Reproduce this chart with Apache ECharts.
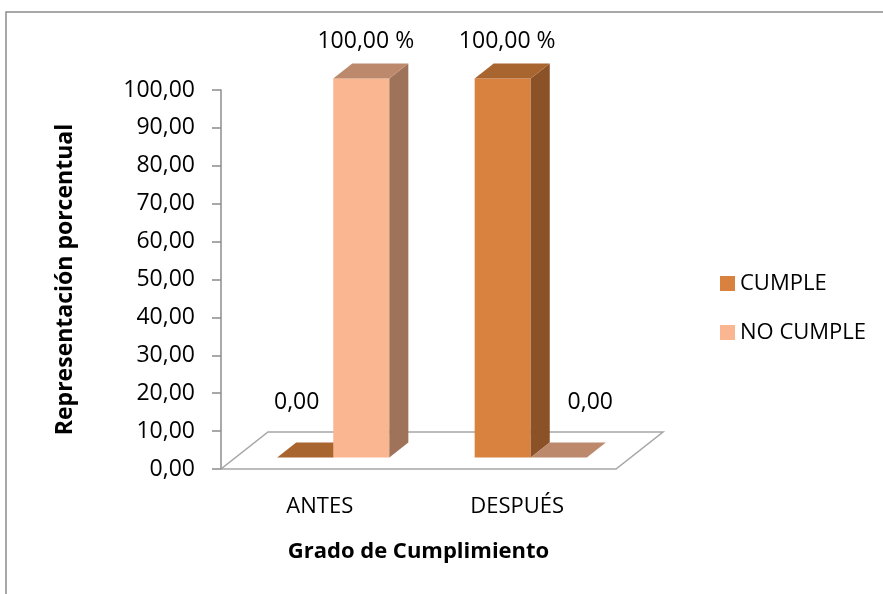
<!DOCTYPE html>
<html>
<head>
<meta charset="utf-8">
<script src="https://cdn.jsdelivr.net/npm/echarts@6/dist/echarts.min.js"></script>
<style>
  html, body { margin: 0; padding: 0; background: #fff; }
  #chart { width: 883px; height: 594px; }
</style>
</head>
<body>
<div id="chart"></div>
<script>
const categories = ["ANTES", "DESPUÉS"]
const seriesNames = ["CUMPLE", "NO CUMPLE"]
const cumple = [0, 100]
const noCumple = [100, 0]

// front / side / top shades for each serie
const colors = [
  { front: "#D9823F", side: "#8B5228", top: "#A9652F" },
  { front: "#FAB690", side: "#9F735A", top: "#BC896C" }
]
const FONT = "Open Sans"
const FLOOR = [47, 37]
const BAR_OFF = [13.5, 11.5]
const BAR_DEPTH = [19, 15]

const fmt = (v) => v.toFixed(2).replace(".", ",")

function floorItem(params) {
  const c = params.coordSys
  const yb = c.y + c.height
  return {
    type: "polygon",
    shape: {
      points: [
        [c.x, yb],
        [c.x + c.width, yb],
        [c.x + c.width + FLOOR[0], yb - FLOOR[1]],
        [c.x + FLOOR[0], yb - FLOOR[1]]
      ]
    },
    style: { fill: "#fff", stroke: "#A6A6A6", lineWidth: 1.5 }
  }
}

function barItem(sIdx) {
  const col = colors[sIdx]
  return function (params, api) {
    const cat = api.value(0)
    const val = api.value(1)
    const base = api.coord([cat, 0])
    const top = api.coord([cat, val])
    const bw = api.size([1, 0])[0] * 0.284
    const x0 = base[0] + BAR_OFF[0] + (sIdx - 1) * bw
    const x1 = x0 + bw
    const yb = base[1] - BAR_OFF[1]
    const yt = top[1] - BAR_OFF[1]
    const dx = BAR_DEPTH[0]
    const dy = BAR_DEPTH[1]
    const children = []
    if (yb - yt > 0.5) {
      children.push({
        type: "rect",
        shape: { x: x0, y: yt, width: bw, height: yb - yt },
        style: { fill: col.front }
      })
      children.push({
        type: "polygon",
        shape: { points: [[x1, yb], [x1 + dx, yb - dy], [x1 + dx, yt - dy], [x1, yt]] },
        style: { fill: col.side }
      })
    }
    children.push({
      type: "polygon",
      shape: { points: [[x0, yt], [x1, yt], [x1 + dx, yt - dy], [x0 + dx, yt - dy]] },
      style: { fill: col.top }
    })
    const cx = x0 + bw / 2 + dx / 2
    const cy = yt - dy / 2
    let lx, ly, txt
    if (val > 0) {
      lx = cx - 5
      ly = cy - 30
      txt = fmt(val) + " %"
    } else {
      lx = cx + (sIdx === 0 ? -18 : 22)
      ly = cy - 48
      txt = fmt(val)
    }
    children.push({
      type: "text",
      style: {
        text: txt, x: lx, y: ly, align: "center", verticalAlign: "middle",
        fontSize: 23, fontFamily: FONT, fill: "#000"
      }
    })
    return { type: "group", children }
  }
}

const chart = echarts.init(document.getElementById("chart"))
const option = {
  backgroundColor: "#fff",
  animation: false,
  graphic: [
    {
      type: "rect",
      shape: { x: 6, y: 12, width: 900, height: 620 },
      style: { fill: "none", stroke: "#8C8C8C", lineWidth: 1.5 },
      silent: true
    }
  ],
  legend: {
    data: seriesNames,
    orient: "vertical",
    left: 715,
    top: 266,
    icon: "rect",
    itemWidth: 15,
    itemHeight: 15,
    itemGap: 24,
    textStyle: { fontSize: 22, fontFamily: FONT, color: "#000", lineHeight: 25 }
  },
  grid: { left: 221, top: 90, width: 395, height: 379 },
  xAxis: {
    type: "category",
    data: categories,
    name: "Grado de Cumplimiento",
    nameLocation: "middle",
    nameGap: 72,
    nameTextStyle: { fontSize: 22, fontWeight: "bold", fontFamily: FONT, color: "#000" },
    axisLine: { show: false },
    axisTick: { show: false },
    axisLabel: { fontSize: 22, fontFamily: FONT, color: "#000", margin: 27 }
  },
  yAxis: {
    type: "value",
    min: 0,
    max: 100,
    interval: 10,
    name: "Representación porcentual",
    nameLocation: "middle",
    nameGap: 144,
    nameTextStyle: { fontSize: 23, fontWeight: "bold", fontFamily: FONT, color: "#000" },
    axisLine: { show: true, lineStyle: { color: "#8C8C8C", width: 1.5 } },
    axisTick: { show: true, length: 9, lineStyle: { color: "#8C8C8C", width: 1.5 } },
    splitLine: { show: false },
    axisLabel: {
      fontSize: 23, fontFamily: FONT, color: "#000", margin: 26,
      formatter: (v) => fmt(v)
    }
  },
  series: [
    {
      type: "custom",
      name: "floor",
      silent: true,
      clip: false,
      z: 1,
      data: [[0, 0]],
      renderItem: floorItem
    },
    {
      type: "custom",
      name: seriesNames[0],
      clip: false,
      z: 2,
      itemStyle: { color: colors[0].front },
      encode: { x: 0, y: 1 },
      data: cumple.map((v, i) => [i, v]),
      renderItem: barItem(0)
    },
    {
      type: "custom",
      name: seriesNames[1],
      clip: false,
      z: 3,
      itemStyle: { color: colors[1].front },
      encode: { x: 0, y: 1 },
      data: noCumple.map((v, i) => [i, v]),
      renderItem: barItem(1)
    }
  ]
}
chart.setOption(option)
</script>
</body>
</html>
